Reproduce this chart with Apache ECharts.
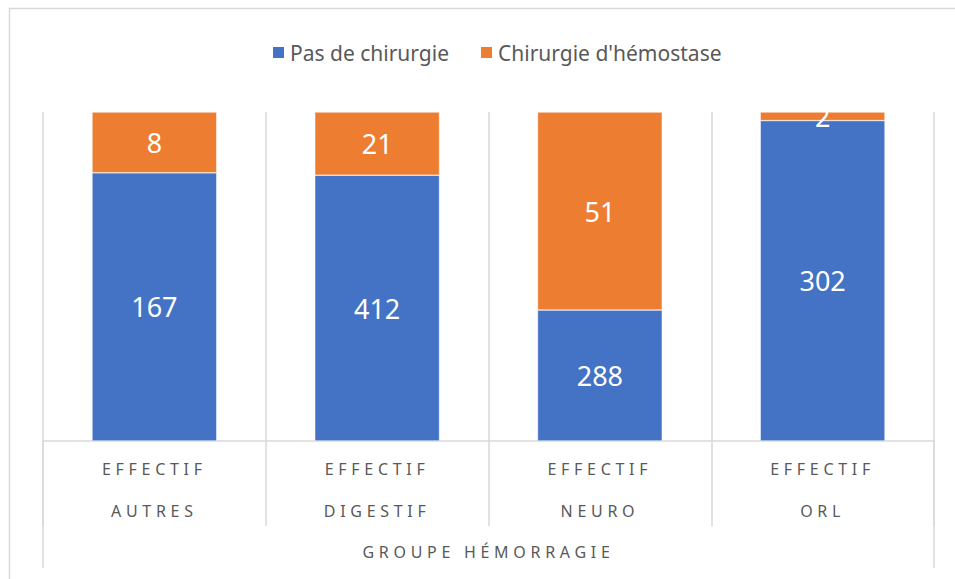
<!DOCTYPE html>
<html>
<head>
<meta charset="utf-8">
<script src="https://cdn.jsdelivr.net/npm/echarts@6/dist/echarts.min.js"></script>
<style>
  html, body { margin: 0; padding: 0; background: #fff; }
  #chart { width: 955px; height: 579px; }
</style>
</head>
<body>
<div id="chart"></div>
<script>
// categories (inner level) and outer group
var categories = ["EFFECTIF AUTRES", "EFFECTIF DIGESTIF", "EFFECTIF NEURO", "EFFECTIF ORL"];
var groupName = ["GROUPE HÉMORRAGIE"];

// counts shown in the bars
var countPas = [167, 412, 288, 302];
var countChir = [8, 21, 51, 2];

// bar heights (share of the column, %)
var sharePas = [81.5, 80.8, 39.8, 97.4];
var shareChir = [18.5, 19.2, 60.2, 2.6];

var seriesNames = ["Pas de chirurgie", "Chirurgie d'hémostase"];

var font = "'Noto Sans', 'Open Sans', sans-serif";
var gray = "#d9d9d9";
var textGray = "#595959";

var myChart = echarts.init(document.getElementById("chart"), null, { renderer: "svg" });

function barLabel(counts) {
  return {
    show: true,
    position: "inside",
    color: "#fff",
    fontSize: 27,
    fontFamily: font,
    formatter: function (p) {
      return counts[p.dataIndex];
    },
  };
}

myChart.setOption({
  animation: false,
  textStyle: { fontFamily: font },
  graphic: [
    {
      type: "rect",
      left: 7,
      top: 6,
      shape: { x: 0, y: 0, width: 960, height: 600 },
      style: { fill: "none", stroke: gray, lineWidth: 1.5 },
      silent: true,
    },
  ],
  legend: {
    top: 37,
    left: 266,
    itemWidth: 13,
    itemHeight: 13,
    itemGap: 30,
    icon: "rect",
    textStyle: { color: textGray, fontSize: 21, fontFamily: font },
    data: seriesNames,
  },
  grid: { left: 43, right: 21, top: 112, bottom: 138 },
  xAxis: [
    {
      type: "category",
      data: categories,
      axisLine: { show: true, lineStyle: { color: gray, width: 1.5 } },
      axisTick: { show: true, length: 85, lineStyle: { color: gray, width: 1.5 } },
      splitLine: { show: true, lineStyle: { color: gray, width: 1.5 } },
      axisLabel: {
        interval: 0,
        margin: 7,
        color: textGray,
        fontSize: 16,
        lineHeight: 42,
        fontFamily: font,
        formatter: function (v) {
          return v.replace(" ", "\n");
        },
      },
    },
    {
      type: "category",
      position: "bottom",
      data: groupName,
      axisLine: { show: false },
      axisTick: { show: true, length: 127, lineStyle: { color: gray, width: 1.5 } },
      axisLabel: { margin: 103, color: textGray, fontSize: 16, lineHeight: 16, fontFamily: font },
    },
  ],
  yAxis: {
    type: "value",
    min: 0,
    max: 100,
    show: false,
  },
  series: [
    {
      name: seriesNames[0],
      type: "bar",
      stack: "total",
      barWidth: "56%",
      xAxisIndex: 0,
      data: sharePas,
      itemStyle: { color: "#4472C4", borderColor: "#fff", borderWidth: 0.5 },
      label: barLabel(countPas),
    },
    {
      name: seriesNames[1],
      type: "bar",
      stack: "total",
      barWidth: "56%",
      xAxisIndex: 0,
      data: shareChir,
      itemStyle: { color: "#ED7D31", borderColor: "#fff", borderWidth: 0.5 },
      label: barLabel(countChir),
    },
  ],
});

// espacement des lettres sur les libellés d'axe (comme dans Excel)
function spaceLetters() {
  var words = ["EFFECTIF", "AUTRES", "DIGESTIF", "NEURO", "ORL", "GROUPE HÉMORRAGIE"];
  var texts = document.querySelectorAll("#chart svg text");
  texts.forEach(function (t) {
    if (words.indexOf(t.textContent.trim()) >= 0) {
      t.style.letterSpacing = "4.7px";
    }
  });
}
spaceLetters();
myChart.on("finished", spaceLetters);
</script>
</body>
</html>
